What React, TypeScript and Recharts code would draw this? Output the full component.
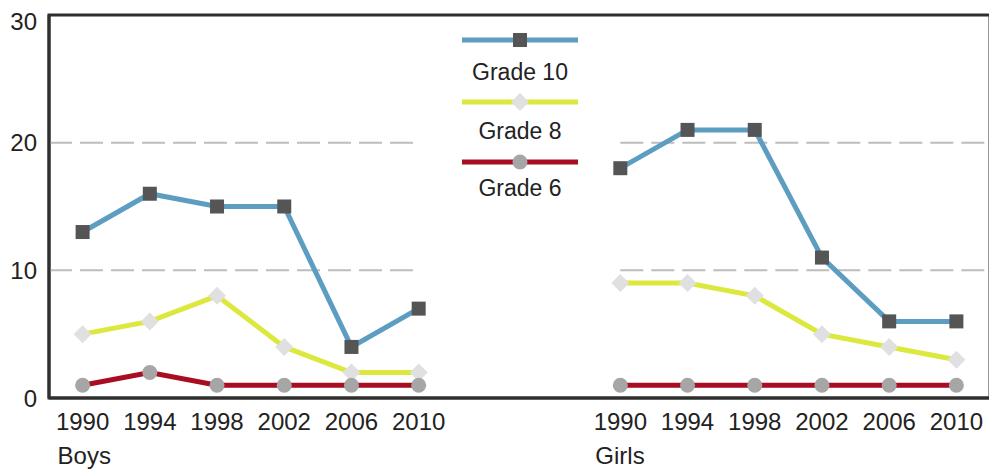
import React from 'react';
import { LineChart, Line, XAxis, YAxis, ReferenceLine } from 'recharts';

const years = [1990, 1994, 1998, 2002, 2006, 2010];
const boysGrade10 = [13, 16, 15, 15, 4, 7];
const boysGrade8 = [5, 6, 8, 4, 2, 2];
const boysGrade6 = [1, 2, 1, 1, 1, 1];
const girlsGrade10 = [18, 21, 21, 11, 6, 6];
const girlsGrade8 = [9, 9, 8, 5, 4, 3];
const girlsGrade6 = [1, 1, 1, 1, 1, 1];
const groupLabels = ['Boys', 'Girls'];
const yTicks = [0, 10, 20, 30];

// boys at index 0-5, two empty slots, girls at 8-13
const GIRLS_START = 8;

const data: any[] = [];
years.forEach((yr, i) => {
  data.push({ x: i, year: yr, g10: boysGrade10[i], g8: boysGrade8[i], g6: boysGrade6[i] });
});
data.push({ x: 6, year: null, g10: null, g8: null, g6: null });
data.push({ x: 7, year: null, g10: null, g8: null, g6: null });
years.forEach((yr, i) => {
  data.push({ x: GIRLS_START + i, year: yr, g10: girlsGrade10[i], g8: girlsGrade8[i], g6: girlsGrade6[i] });
});

const xTicks = data.filter((d) => d.year !== null).map((d) => d.x);
const X_MIN = -0.5;
const X_MAX = 13.5;

const FONT = '"Liberation Sans", Arial, sans-serif';
const TEXT = '#222';
const FRAME = '#2f2f2f';

const BLUE = '#5c9dc1';
const YELLOW = '#dde83f';
const RED = '#a80d22';

// chart box
const W = 984;
const H = 468;
const M = { top: 7, right: 2, bottom: 8, left: 0 };
const Y_W = 41;
const X_H = 70;

const squareMark = (cx: number, cy: number, key?: any) => (
  <rect key={key} x={cx - 7} y={cy - 7} width={14} height={14} fill="#555555" />
);
const diamondMark = (cx: number, cy: number, key?: any) => (
  <path key={key} d={`M${cx},${cy - 9} L${cx + 9},${cy} L${cx},${cy + 9} L${cx - 9},${cy} Z`} fill="#e0e0e0" />
);
const circleMark = (cx: number, cy: number, key?: any) => (
  <circle key={key} cx={cx} cy={cy} r={7.5} fill="#a6a6a6" />
);

const makeDot = (mark: (cx: number, cy: number, key?: any) => React.ReactElement) => (props: any) => {
  const { cx, cy, index } = props;
  if (cx == null || cy == null || props.value == null) return <g key={`e${index}`} />;
  return mark(cx, cy, `d${index}`);
};

const series = [
  { key: 'g10', name: 'Grade 10', color: BLUE, mark: squareMark },
  { key: 'g8', name: 'Grade 8', color: YELLOW, mark: diamondMark },
  { key: 'g6', name: 'Grade 6', color: RED, mark: circleMark },
];

const XTick = ({ x, y, payload }: any) => {
  const row = data.find((d) => d.x === payload.value);
  const first = payload.value === 0 || payload.value === GIRLS_START;
  return (
    <g>
      <text x={x} y={y + 24} textAnchor="middle" fontSize={24} fontFamily={FONT} fill={TEXT}>
        {row ? row.year : ''}
      </text>
      {first && (
        <text x={x - 25} y={y + 58} textAnchor="start" fontSize={24} fontFamily={FONT} fill={TEXT}>
          {payload.value === 0 ? groupLabels[0] : groupLabels[1]}
        </text>
      )}
    </g>
  );
};

// legend drawn in the gap between the two groups
const LegendBlock = () => (
  <g>
    {series.map((s, i) => {
      const ly = [32, 94, 154][i];
      const ty = [72, 131, 188][i];
      return (
        <g key={s.key}>
          <line x1={454} x2={570} y1={ly} y2={ly} stroke={s.color} strokeWidth={5} />
          {s.mark(512, ly)}
          <text x={512} y={ty} textAnchor="middle" fontSize={23} fontFamily={FONT} fill={TEXT}>
            {s.name}
          </text>
        </g>
      );
    })}
  </g>
);

// frame round the plot area
const Frame = () => {
  const l = M.left + Y_W;
  const t = M.top;
  const r = W - M.right;
  const b = H - M.bottom - X_H;
  return (
    <path
      d={`M${l},${t} L${r},${t} L${r},${b} L${l},${b} Z`}
      fill="none"
      stroke={FRAME}
      strokeWidth={3}
      strokeLinejoin="miter"
    />
  );
};

const gridSegments = [10, 20].flatMap((v) => [
  [{ x: X_MIN, y: v }, { x: 5, y: v }],
  [{ x: GIRLS_START, y: v }, { x: X_MAX, y: v }],
]);

export default function App() {
  return (
    <div style={{ width: W, height: H }}>
      <LineChart width={W} height={H} data={data} margin={M} style={{ overflow: 'visible' }}>
        <XAxis
          dataKey="x"
          type="number"
          domain={[X_MIN, X_MAX]}
          ticks={xTicks}
          interval={0}
          axisLine={{ stroke: FRAME, strokeWidth: 3 }}
          tickLine={false}
          height={X_H}
          tick={<XTick />}
        />
        <YAxis
          domain={[0, 30]}
          ticks={yTicks}
          width={Y_W}
          axisLine={{ stroke: FRAME, strokeWidth: 3 }}
          tickLine={false}
          tickSize={6}
          tickMargin={6}
          tick={{ fontSize: 24, fontFamily: FONT, fill: TEXT }}
        />
        {gridSegments.map((seg, i) => (
          <ReferenceLine
            key={i}
            segment={seg as any}
            stroke="#bdbdbd"
            strokeWidth={2}
            strokeDasharray="23 8"
          />
        ))}
        {series.map((s) => (
          <Line
            key={s.key}
            dataKey={s.key}
            name={s.name}
            stroke={s.color}
            strokeWidth={5}
            type="linear"
            connectNulls={false}
            dot={makeDot(s.mark)}
            activeDot={false}
            isAnimationActive={false}
          />
        ))}
        <Frame />
        <LegendBlock />
      </LineChart>
    </div>
  );
}
